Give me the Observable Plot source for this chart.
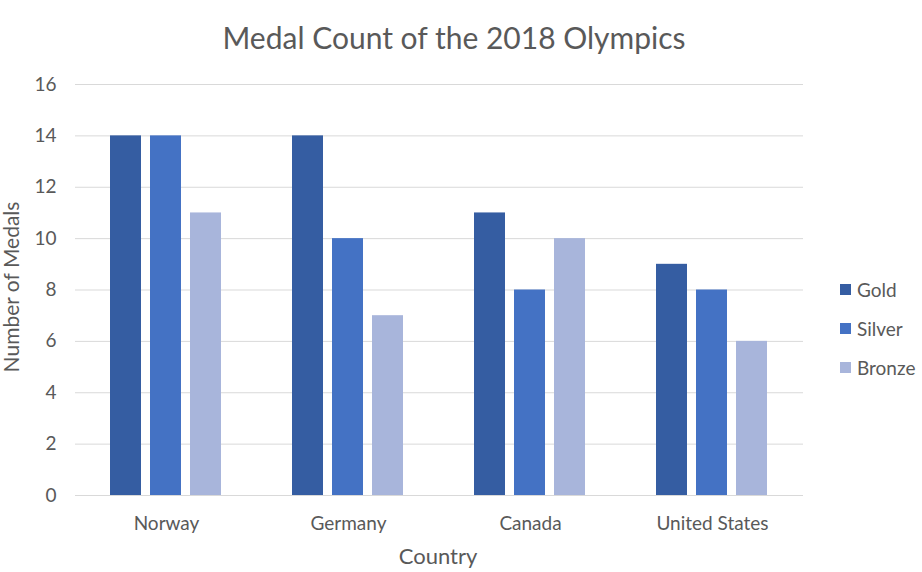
<!DOCTYPE html>
<html>
<head>
<meta charset="utf-8">
<script src="https://cdn.jsdelivr.net/npm/d3@7"></script>
<script src="https://cdn.jsdelivr.net/npm/@observablehq/plot@0.6"></script>
<style>
  html, body { margin: 0; padding: 0; background: #fff; }
  #wrap { position: relative; width: 922px; height: 572px; font-family: Lato, "Open Sans", sans-serif; color: #595959; }
  #title { position: absolute; left: 0; top: 0; width: 908px; text-align: center; font-size: 30px; line-height: 74px; color: #595959; }
  #chart { position: absolute; left: 0; top: 70px; }
  #legend { position: absolute; left: 840px; top: 0; }
  .item { position: absolute; left: 0; display: flex; align-items: center; white-space: nowrap; font-size: 19px; height: 20px; margin-top: -11px; }
  .sw { width: 11px; height: 11px; margin-right: 6px; }
</style>
</head>
<body>
<div id="wrap">
  <div id="title"></div>
  <div id="chart"></div>
  <div id="legend"></div>
</div>
<script>
const titleText = "Medal Count of the 2018 Olympics";
const xLabel = "Country";
const yLabel = "Number of Medals";
const countries = ["Norway", "Germany", "Canada", "United States"];
const medals = ["Gold", "Silver", "Bronze"];
const gold = [14, 14, 11, 9];
const silver = [14, 10, 8, 8];
const bronze = [11, 7, 10, 6];
const colors = ["#355DA2", "#4472C4", "#A8B5DB"];
const yTicks = [0, 2, 4, 6, 8, 10, 12, 14, 16];

const series = [gold, silver, bronze];
const rows = [];
countries.forEach((c, i) => medals.forEach((m, j) => rows.push({country: c, medal: m, value: series[j][i]})));

document.getElementById("title").textContent = titleText;

const font = "Lato, 'Open Sans', sans-serif";
const chart = Plot.plot({
  width: 922,
  height: 502,
  marginTop: 14,
  marginBottom: 77,
  marginLeft: 74,
  marginRight: 119,
  style: {fontFamily: font, color: "#595959", background: "transparent", overflow: "visible"},
  fx: {domain: countries, padding: 0, label: null},
  x: {domain: medals, paddingInner: 0.22, paddingOuter: 0.83, axis: null},
  y: {domain: [0, 16], axis: null},
  color: {domain: medals, range: colors},
  marks: [
    Plot.gridY(yTicks, {stroke: "#d9d9d9", strokeOpacity: 1, strokeWidth: 1}),
    Plot.barY(rows, {fx: "country", x: "medal", y: "value", fill: "medal"}),
    Plot.axisY(yTicks, {tickSize: 0, tickPadding: 19, fontSize: 19, label: null, fill: "#595959"}),
    Plot.axisFx({anchor: "bottom", tickSize: 0, tickPadding: 21, fontSize: 19, label: null, fill: "#595959"})
  ]
});
document.getElementById("chart").appendChild(chart);

const svg = d3.select(chart);
svg.append("text")
  .attr("x", 438).attr("y", 488)
  .attr("text-anchor", "middle").attr("dominant-baseline", "middle")
  .attr("font-size", 22).attr("fill", "#595959").attr("font-family", font)
  .text(xLabel);
svg.append("text")
  .attr("transform", "translate(14,217) rotate(-90)")
  .attr("text-anchor", "middle").attr("dominant-baseline", "middle")
  .attr("font-size", 21).attr("fill", "#595959").attr("font-family", font)
  .text(yLabel);

const legend = document.getElementById("legend");
const legendY = [290, 329, 368];
medals.forEach((m, j) => {
  const item = document.createElement("div");
  item.className = "item";
  item.style.top = legendY[j] + "px";
  const sw = document.createElement("span");
  sw.className = "sw";
  sw.style.background = colors[j];
  const t = document.createElement("span");
  t.textContent = m;
  item.appendChild(sw);
  item.appendChild(t);
  legend.appendChild(item);
});
</script>
</body>
</html>
